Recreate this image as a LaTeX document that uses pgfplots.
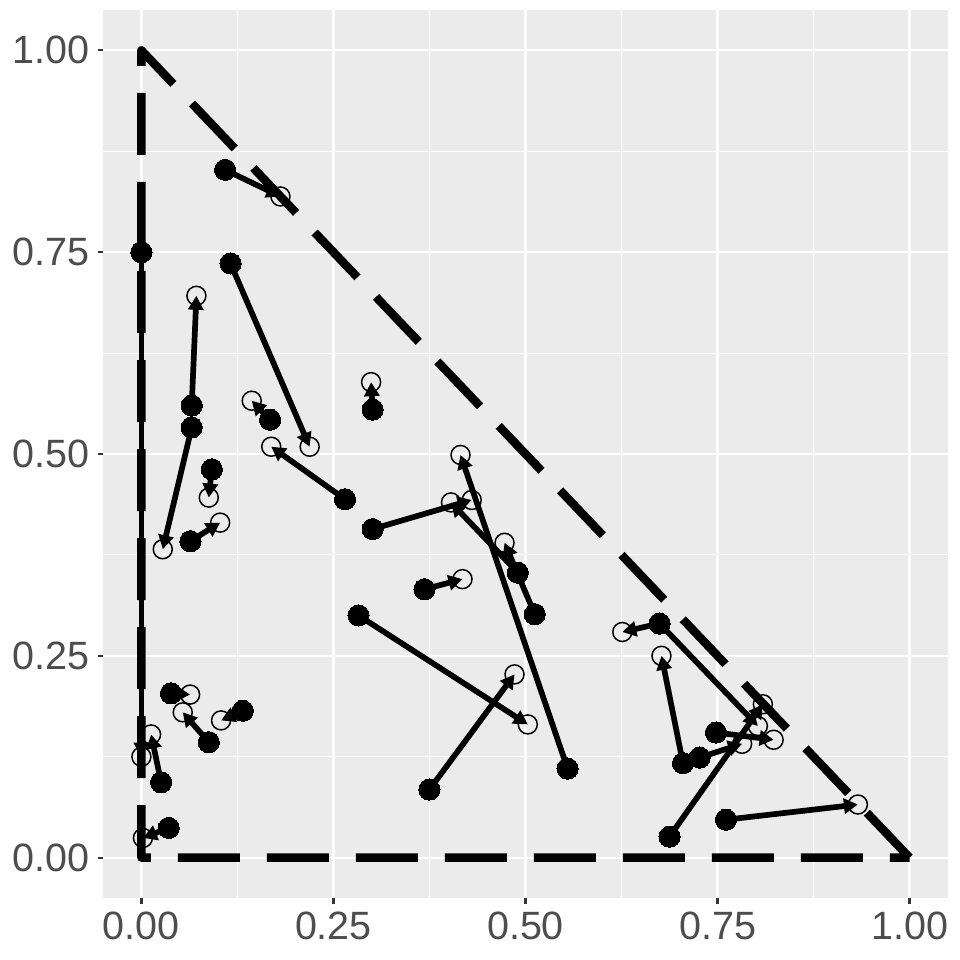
\documentclass[border=0pt]{standalone}
\usepackage{fontspec}
\setmainfont{Liberation Sans}
\usepackage{pgfplots}
\usepackage{pgfplotstable}
\pgfplotsset{compat=1.18}
\usetikzlibrary{arrows.meta}
\definecolor{ggbg}{HTML}{EBEBEB}
\definecolor{ggtext}{HTML}{4D4D4D}
\definecolor{ggtick}{HTML}{333333}

\pgfplotstableread{
x0 y0 x1 y1
0.109 0.852 0.181 0.819
0 0.750 0 0.125
0.116 0.736 0.219 0.509
0.0655 0.560 0.0716 0.696
0.0655 0.533 0.0278 0.382
0.1675 0.5425 0.1436 0.566
0.301 0.555 0.299 0.589
0.265 0.444 0.169 0.509
0.0916 0.481 0.0877 0.446
0.0638 0.392 0.1025 0.415
0.301 0.407 0.430 0.443
0.5547 0.1104 0.4154 0.4988
0.490 0.353 0.403 0.440
0.512 0.3015 0.4727 0.390
0.3685 0.3325 0.418 0.345
0.2826 0.300 0.503 0.165
0.375 0.0844 0.4857 0.227
0.0386 0.2035 0.0634 0.202
0.0877 0.143 0.0538 0.180
0.132 0.182 0.1037 0.170
0.0256 0.0934 0.0126 0.1526
0.0356 0.0368 0.002 0.0244
0.6745 0.290 0.626 0.2795
0.705 0.117 0.677 0.250
0.6745 0.290 0.8025 0.163
0.6875 0.026 0.809 0.190
0.748 0.155 0.823 0.146
0.7266 0.124 0.782 0.141
0.761 0.047 0.9327 0.0658
}\arrowdata

\begin{document}
\begin{tikzpicture}
\useasboundingbox (0,0) rectangle (480bp,480bp);
\begin{axis}[
  at={(51.5bp,31bp)}, anchor=south west,
  width=422.5bp, height=444bp, scale only axis,
  xmin=-0.05, xmax=1.05, ymin=-0.05, ymax=1.05,
  axis background/.style={fill=ggbg},
  axis line style={draw=none},
  xtick={0,0.25,0.5,0.75,1}, ytick={0,0.25,0.5,0.75,1},
  xticklabels={0.00,0.25,0.50,0.75,1.00},
  yticklabels={0.00,0.25,0.50,0.75,1.00},
  minor tick num=1, minor tick length=0pt,
  grid=both,
  major grid style={white, line width=1.1bp},
  minor grid style={white, line width=0.55bp},
  tick align=outside, major tick length=2.75bp,
  xtick pos=bottom, ytick pos=left,
  tick style={ggtick, line width=1.1bp},
  ticklabel style={font=\fontsize{19.75bp}{20bp}\selectfont, text=ggtext, inner sep=0pt},
  xticklabel style={anchor=north, yshift=-4.25bp},
  yticklabel style={anchor=east, xshift=-3.75bp},
  clip=false,
]
\addplot[black, line width=2.85bp, line cap=butt,
  quiver={u=\thisrow{x1}-\thisrow{x0}, v=\thisrow{y1}-\thisrow{y0},
    every arrow/.append style={-{Triangle[length=7bp,width=7.5bp]}}}]
  table[x=x0,y=y0]{\arrowdata};
\addplot[only marks, mark=*, mark size=5.3bp, mark options={fill=black, draw=black, line width=0pt}]
  table[x=x0,y=y0]{\arrowdata};
\addplot[only marks, mark=o, mark size=4.75bp, mark options={draw=black, line width=0.75bp}]
  table[x=x1,y=y1]{\arrowdata};
\addplot[black, line width=4.25bp, dash pattern=on 31bp off 13.5bp, line join=round, line cap=butt]
  coordinates {(1,0) (0,1) (0,0) (1,0)};
\end{axis}
\end{tikzpicture}
\end{document}
